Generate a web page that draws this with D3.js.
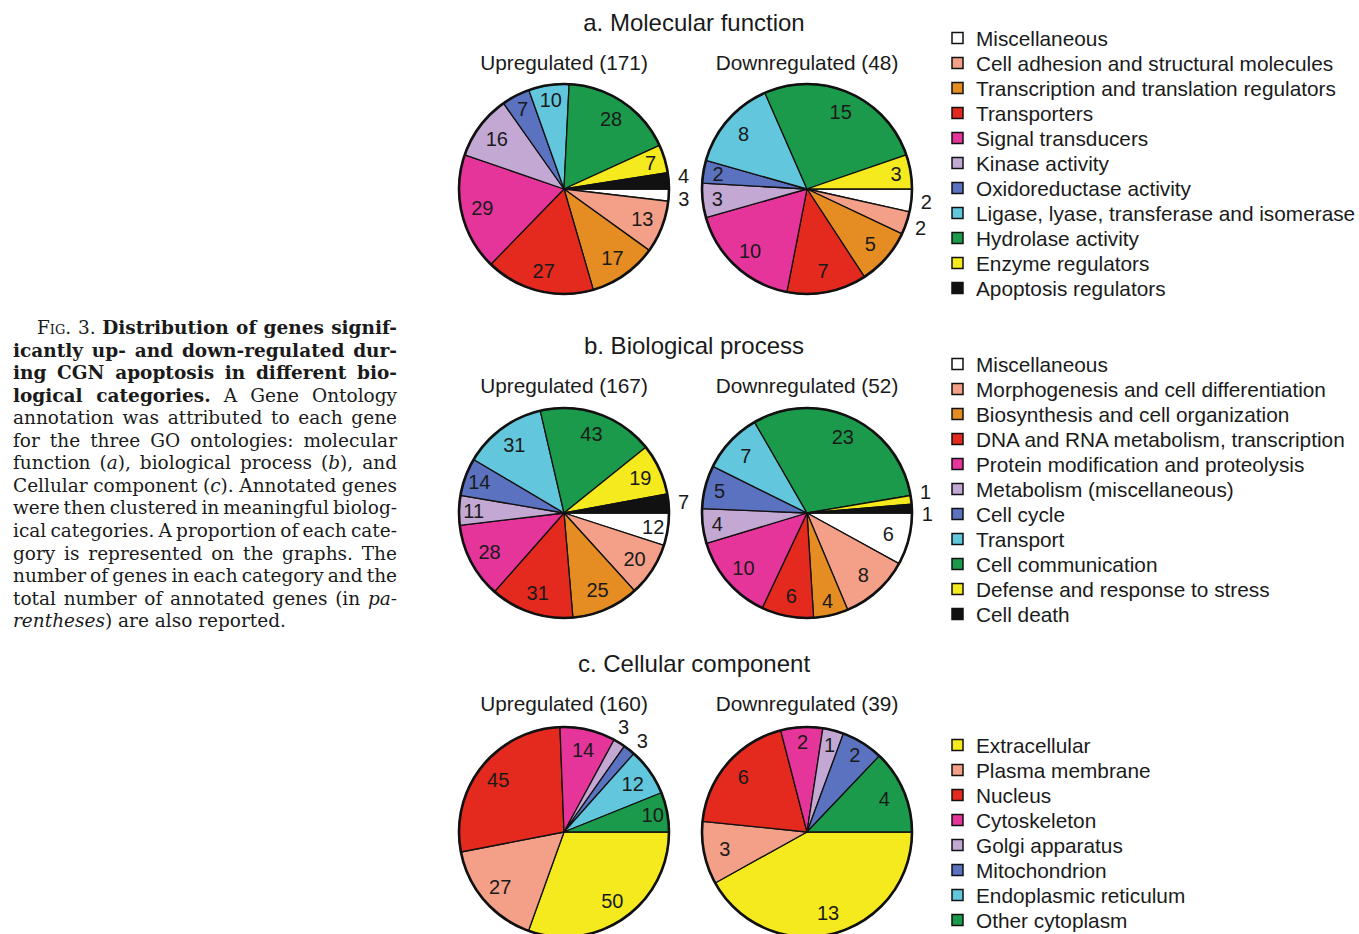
<!DOCTYPE html>
<html>
<head>
<meta charset="utf-8">
<script src="https://cdn.jsdelivr.net/npm/d3@7"></script>
<style>
  body { margin: 0; background: #fff; }
  svg { display: block; }
</style>
</head>
<body>
<svg id="fig" width="1359" height="934"></svg>
<script>
// --- data ---
const mfCategories = ['Miscellaneous', 'Cell adhesion and structural molecules', 'Transcription and translation regulators',
  'Transporters', 'Signal transducers', 'Kinase activity', 'Oxidoreductase activity',
  'Ligase, lyase, transferase and isomerase', 'Hydrolase activity', 'Enzyme regulators', 'Apoptosis regulators'];
const mfUp   = [3, 13, 17, 27, 29, 16, 7, 10, 28, 7, 4];
const mfDown = [2, 2, 5, 7, 10, 3, 2, 8, 15, 3, 0];

const bpCategories = ['Miscellaneous', 'Morphogenesis and cell differentiation', 'Biosynthesis and cell organization',
  'DNA and RNA metabolism, transcription', 'Protein modification and proteolysis', 'Metabolism (miscellaneous)',
  'Cell cycle', 'Transport', 'Cell communication', 'Defense and response to stress', 'Cell death'];
const bpUp   = [12, 20, 25, 31, 28, 11, 14, 31, 43, 19, 7];
const bpDown = [6, 8, 4, 6, 10, 4, 5, 7, 23, 1, 1];

const ccCategories = ['Extracellular', 'Plasma membrane', 'Nucleus', 'Cytoskeleton', 'Golgi apparatus',
  'Mitochondrion', 'Endoplasmic reticulum', 'Other cytoplasm'];
const ccUp   = [50, 27, 45, 14, 3, 3, 12, 10];
const ccDown = [13, 3, 6, 2, 1, 2, 0, 4];

const panelTitles = ['a. Molecular function', 'b. Biological process', 'c. Cellular component'];
const upTotals   = [171, 167, 160];
const downTotals = [48, 52, 39];

// palette
const C = {
  white: '#ffffff', salmon: '#f4a088', orange: '#e58c22', red: '#e4291f', magenta: '#e6359a',
  lilac: '#c3a8d4', blue: '#5a72bf', cyan: '#62c7dc', green: '#1b9a4b', yellow: '#f5ea1d', black: '#111111'
};
const goColors = [C.white, C.salmon, C.orange, C.red, C.magenta, C.lilac, C.blue, C.cyan, C.green, C.yellow, C.black];
const ccColors = [C.yellow, C.salmon, C.red, C.magenta, C.lilac, C.blue, C.cyan, C.green];

// caption lines: [text, style] segments
const captionLines = [
  [['Fig. 3. ', 'sc'], ['Distribution of genes signif-', 'b']],
  [['icantly up- and down-regulated dur-', 'b']],
  [['ing CGN apoptosis in different bio-', 'b']],
  [['logical categories.', 'b'], [' A Gene Ontology', '']],
  [['annotation was attributed to each gene', '']],
  [['for the three GO ontologies: molecular', '']],
  [['function (', ''], ['a', 'i'], ['), biological process (', ''], ['b', 'i'], ['), and', '']],
  [['Cellular component (', ''], ['c', 'i'], ['). Annotated genes', '']],
  [['were then clustered in meaningful biolog-', '']],
  [['ical categories. A proportion of each cate-', '']],
  [['gory is represented on the graphs. The', '']],
  [['number of genes in each category and the', '']],
  [['total number of annotated genes (in ', ''], ['pa-', 'i']],
  [['rentheses', 'i'], [') are also reported.', '']]
];

// --- layout ---
const svg = d3.select('#fig');
const SANS = '"Liberation Sans", Arial, Helvetica, sans-serif';
const INK = '#1a1a1a';
const R = 105;

const panels = [
  { cats: mfCategories, up: mfUp, down: mfDown, colors: goColors, titleY: 31, subY: 70, cy: 189, legendY: 38 },
  { cats: bpCategories, up: bpUp, down: bpDown, colors: goColors, titleY: 354, subY: 393, cy: 513, legendY: 364 },
  { cats: ccCategories, up: ccUp, down: ccDown, colors: ccColors, titleY: 672, subY: 711, cy: 832, legendY: 745 }
];
const upX = 564, downX = 807;

const pie = d3.pie().value(d => d.v).sort(null)
  .startAngle(Math.PI / 2).endAngle(Math.PI / 2 + 2 * Math.PI);
const arc = d3.arc().innerRadius(0).outerRadius(R);

function drawPie(cx, cy, values, colors) {
  const g = svg.append('g').attr('transform', `translate(${cx},${cy})`);
  const data = values.map((v, i) => ({ v, color: colors[i] })).filter(d => d.v > 0);
  const arcs = pie(data);

  g.selectAll('path')
    .data(arcs)
    .join('path')
      .attr('d', arc)
      .attr('fill', d => d.data.color)
      .attr('stroke', '#111')
      .attr('stroke-width', 1.3)
      .attr('stroke-linejoin', 'round');

  g.append('circle')
    .attr('r', R)
    .attr('fill', 'none')
    .attr('stroke', '#111')
    .attr('stroke-width', 2.6);

  // label positions: inside, or just outside for thin slices
  const labels = arcs.map(d => {
    const span = (d.endAngle - d.startAngle) * 180 / Math.PI;
    let dev = (d.startAngle + d.endAngle) / 2 - Math.PI / 2;
    while (dev > Math.PI) dev -= 2 * Math.PI;
    const devDeg = Math.abs(dev * 180 / Math.PI);
    const outside = span < 10 || (span < 13.5 && devDeg < 25);
    const rr = outside ? R + 15 : (span < 25 ? 0.86 * R : 0.8 * R);
    return { text: d.data.v, x: Math.cos(dev) * rr, y: Math.sin(dev) * rr, outside };
  });

  // push apart outside labels that sit on top of each other
  const outs = labels.filter(l => l.outside);
  for (let i = 1; i < outs.length; i++) {
    const a = outs[i - 1], b = outs[i];
    const dx = b.x - a.x, dy = b.y - a.y;
    const dist = Math.hypot(dx, dy);
    const minD = 23;
    if (dist < minD) {
      const ux = dx / dist, uy = dy / dist, push = (minD - dist) / 2;
      a.x -= ux * push; a.y -= uy * push;
      b.x += ux * push; b.y += uy * push;
    }
  }

  g.selectAll('text')
    .data(labels)
    .join('text')
      .attr('x', d => d.x)
      .attr('y', d => d.y)
      .attr('text-anchor', 'middle')
      .attr('dominant-baseline', 'central')
      .attr('font-family', SANS)
      .attr('font-size', 20)
      .attr('fill', INK)
      .text(d => d.text);
}

function drawLegend(x, y0, cats, colors) {
  const g = svg.append('g').attr('transform', `translate(${x},${y0})`);
  const row = g.selectAll('g')
    .data(cats)
    .join('g')
      .attr('transform', (d, i) => `translate(0,${i * 25})`);
  row.append('rect')
    .attr('x', 0).attr('y', -5.5)
    .attr('width', 11).attr('height', 11)
    .attr('fill', (d, i) => colors[i])
    .attr('stroke', '#111')
    .attr('stroke-width', 1.5);
  row.append('text')
    .attr('x', 24)
    .attr('y', 0)
    .attr('dominant-baseline', 'central')
    .attr('font-family', SANS)
    .attr('font-size', 20.8)
    .attr('fill', INK)
    .text(d => d);
}

panels.forEach((p, k) => {
  svg.append('text')
    .attr('x', 694).attr('y', p.titleY)
    .attr('text-anchor', 'middle')
    .attr('font-family', SANS).attr('font-size', 24)
    .attr('fill', INK)
    .text(panelTitles[k]);

  svg.append('text')
    .attr('x', upX).attr('y', p.subY)
    .attr('text-anchor', 'middle')
    .attr('font-family', SANS).attr('font-size', 20.8)
    .attr('fill', INK)
    .text(`Upregulated (${upTotals[k]})`);

  svg.append('text')
    .attr('x', downX).attr('y', p.subY)
    .attr('text-anchor', 'middle')
    .attr('font-family', SANS).attr('font-size', 20.8)
    .attr('fill', INK)
    .text(`Downregulated (${downTotals[k]})`);

  drawPie(upX, p.cy, p.up, p.colors);
  drawPie(downX, p.cy, p.down, p.colors);
  drawLegend(952, p.legendY, p.cats, p.colors);
});

// --- caption on the left, justified by stretching the word gaps ---
const cap = svg.append('g');
captionLines.forEach((segs, i) => {
  const first = i === 0, last = i === captionLines.length - 1;
  const x0 = first ? 37 : 13;
  const t = cap.append('text')
    .attr('x', x0)
    .attr('y', 334 + i * 22.55)
    .attr('font-family', '"DejaVu Serif", "Liberation Serif", serif')
    .attr('font-size', 18.5)
    .attr('fill', INK);
  segs.forEach(([txt, st]) => {
    const s = t.append('tspan').text(txt);
    if (st === 'b') s.attr('font-weight', 'bold');
    if (st === 'i') s.attr('font-style', 'italic');
    if (st === 'sc') s.attr('font-variant', 'small-caps');
  });
  if (!last) {
    const full = segs.map(s => s[0]).join('');
    const gaps = (full.match(/ /g) || []).length;
    const natural = t.node().getComputedTextLength();
    const extra = (397 - x0 - natural) / Math.max(gaps, 1);
    t.style('word-spacing', `${extra}px`);
  }
});
</script>
</body>
</html>
